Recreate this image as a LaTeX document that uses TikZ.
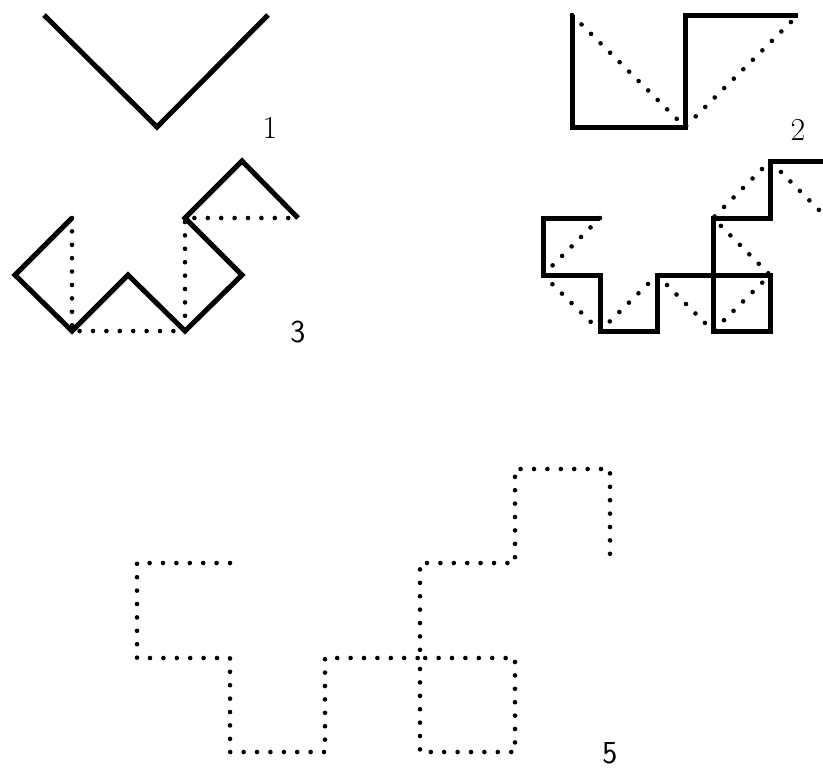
\documentclass[tikz,border=0pt]{standalone}
\begin{document}
\begin{tikzpicture}[x=0.5pt,y=-0.5pt,
  curve/.style={line width=2.5pt},
  prev/.style={line width=2.3pt, line cap=round, dash pattern=on 0pt off 6.7pt},
  stagelbl/.style={font=\fontsize{16}{19}\selectfont, inner sep=0pt}]
  % Canvas
  \clip (0,0) rectangle (823,767);
  % Stage 1
  \draw[curve] (44,15) -- (157,127) -- (268,15);
  \node[stagelbl] (lbl1) at (270,128) {1};
  % Stage 2
  \draw[prev] (572,15) -- (685,127) -- (798,15);
  \draw[curve] (572,15) -- (572,127) -- (685,127) -- (685,15) -- (798,15);
  \node[stagelbl] (lbl2) at (798,130) {2};
  % Stage 3
  \draw[prev] (72,218) -- (72,331) -- (185,331) -- (185,218) -- (298,218);
  \draw[curve] (72,218) -- (15,275) -- (72,331) -- (128,275) -- (185,331)
    -- (242,275) -- (185,218) -- (242,161) -- (298,218);
  \node[stagelbl,font=\fontsize{16}{19}\sffamily] (lbl3) at (298,332) {3};
  % Stage 4
  \draw[prev] (600,218) -- (543,275) -- (600,331) -- (657,275) -- (713,331)
    -- (770,275) -- (713,218) -- (770,161) -- (827,218);
  \draw[curve] (600,218) -- (543,218) -- (543,275) -- (600,275) -- (600,331)
    -- (657,331) -- (657,275) -- (713,275) -- (713,331) -- (770,331)
    -- (770,275) -- (713,275) -- (713,218) -- (770,218) -- (770,161)
    -- (827,161) -- (827,218);
  \node[stagelbl,font=\fontsize{16}{19}\sffamily] (lbl4) at (830,335) {4};
  % Stage 5
  \draw[prev] (230,563) -- (137,563) -- (137,658) -- (230,658) -- (230,752)
    -- (325,752) -- (325,658) -- (420,658) -- (420,752) -- (515,752)
    -- (515,658) -- (420,658) -- (420,563) -- (515,563) -- (515,469)
    -- (610,469) -- (610,555);
  \node[stagelbl,font=\fontsize{16}{19}\sffamily] (lbl5) at (610,753) {5};
\end{tikzpicture}
\end{document}
